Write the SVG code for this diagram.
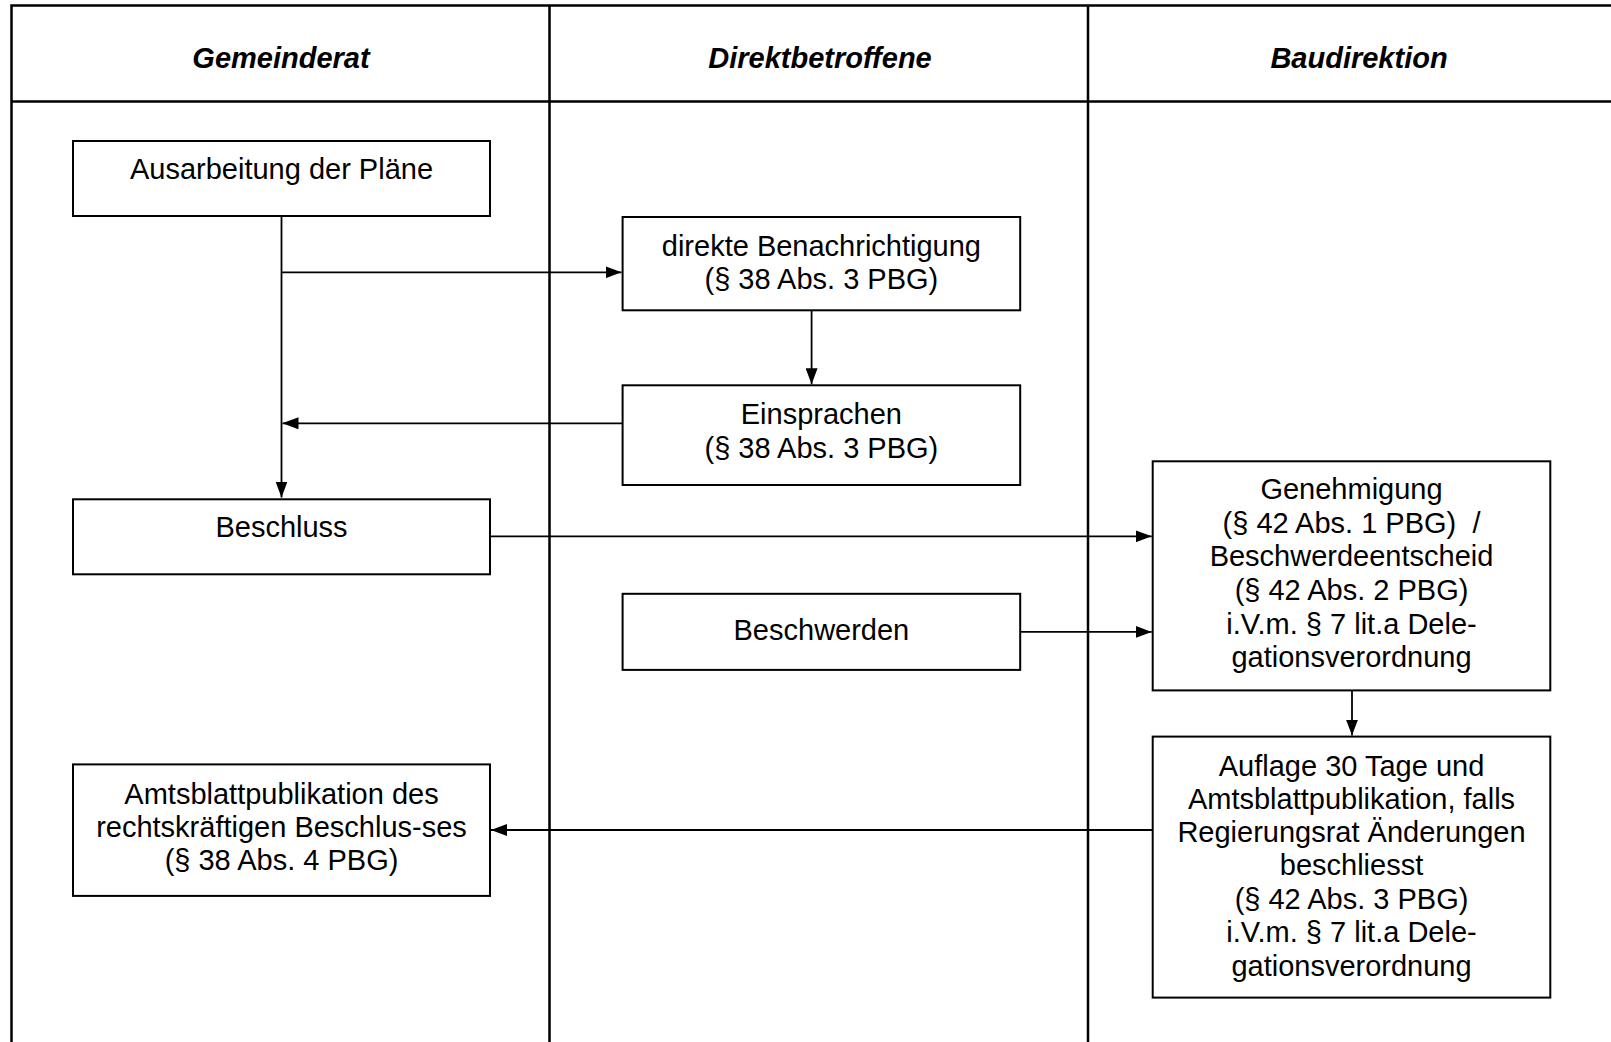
<svg xmlns="http://www.w3.org/2000/svg" width="1611" height="1042" viewBox="0 0 1611 1042">
<style>
.grid{stroke:#000;stroke-width:2.5;fill:none}
.box{fill:#fff;stroke:#000;stroke-width:2}
.con{stroke:#000;stroke-width:1.8;fill:none}
text{font-family:"Liberation Sans",Arial,sans-serif;font-size:29px;fill:#000;text-anchor:middle}
.hd{font-weight:bold;font-style:italic}
</style>
<defs>
<marker id="arr" viewBox="0 0 16 12" refX="16" refY="6" markerWidth="16" markerHeight="12" markerUnits="userSpaceOnUse" orient="auto">
<path d="M0,0 L16,6 L0,12 Z" fill="#000"/>
</marker>
</defs>
<rect width="1611" height="1042" fill="#fff"/>
<g id="table">
<path class="grid" d="M11.5,1042 V5.5 H1611 M11.5,101.5 H1611 M549.5,5.5 V1042 M1088,5.5 V1042"/>
<text class="hd" x="281" y="68">Gemeinderat</text>
<text class="hd" x="820" y="68">Direktbetroffene</text>
<text class="hd" x="1359" y="68">Baudirektion</text>
</g>
<g id="connectors">
<path class="con" d="M281.5,216 V497.5" marker-end="url(#arr)"/>
<path class="con" d="M281.5,272.3 H621.5" marker-end="url(#arr)"/>
<path class="con" d="M811.6,310.3 V384.3" marker-end="url(#arr)"/>
<path class="con" d="M622.6,423.3 H282.5" marker-end="url(#arr)"/>
<path class="con" d="M490,536.3 H1151.7" marker-end="url(#arr)"/>
<path class="con" d="M1020,631.9 H1151.7" marker-end="url(#arr)"/>
<path class="con" d="M1352,690.4 V735.6" marker-end="url(#arr)"/>
<path class="con" d="M1152.7,830 H491" marker-end="url(#arr)"/>
</g>
<g id="n-ausarbeitung">
<rect class="box" x="73" y="141" width="417" height="75"/>
<text x="281.5" y="178.5">Ausarbeitung der Pläne</text>
</g>
<g id="n-benachrichtigung">
<rect class="box" x="622.6" y="217" width="397.6" height="93.3"/>
<text x="821.4" y="255.5">direkte Benachrichtigung</text>
<text x="821.4" y="288.5">(§ 38 Abs. 3 PBG)</text>
</g>
<g id="n-einsprachen">
<rect class="box" x="622.6" y="385.3" width="397.6" height="99.7"/>
<text x="821.4" y="424">Einsprachen</text>
<text x="821.4" y="458">(§ 38 Abs. 3 PBG)</text>
</g>
<g id="n-beschluss">
<rect class="box" x="73" y="499.3" width="417" height="75"/>
<text x="281.5" y="537">Beschluss</text>
</g>
<g id="n-beschwerden">
<rect class="box" x="622.6" y="593.8" width="397.6" height="76.1"/>
<text x="821.4" y="640">Beschwerden</text>
</g>
<g id="n-genehmigung">
<rect class="box" x="1152.7" y="461.3" width="397.6" height="229.1"/>
<text x="1351.5" y="499">Genehmigung</text>
<text x="1351.5" y="533" xml:space="preserve">(§ 42 Abs. 1 PBG)  /</text>
<text x="1351.5" y="566">Beschwerdeentscheid</text>
<text x="1351.5" y="600">(§ 42 Abs. 2 PBG)</text>
<text x="1351.5" y="633.5">i.V.m. § 7 lit.a Dele-</text>
<text x="1351.5" y="666.5">gationsverordnung</text>
</g>
<g id="n-auflage">
<rect class="box" x="1152.7" y="736.6" width="397.6" height="261"/>
<text x="1351.5" y="775.5">Auflage 30 Tage und</text>
<text x="1351.5" y="808.5">Amtsblattpublikation, falls</text>
<text x="1351.5" y="841.5">Regierungsrat Änderungen</text>
<text x="1351.5" y="875">beschliesst</text>
<text x="1351.5" y="909">(§ 42 Abs. 3 PBG)</text>
<text x="1351.5" y="942">i.V.m. § 7 lit.a Dele-</text>
<text x="1351.5" y="976">gationsverordnung</text>
</g>
<g id="n-amtsblatt">
<rect class="box" x="73" y="764.4" width="417" height="131.5"/>
<text x="281.5" y="803.5">Amtsblattpublikation des</text>
<text x="281.5" y="836.5">rechtskräftigen Beschlus-ses</text>
<text x="281.5" y="870">(§ 38 Abs. 4 PBG)</text>
</g>
</svg>
